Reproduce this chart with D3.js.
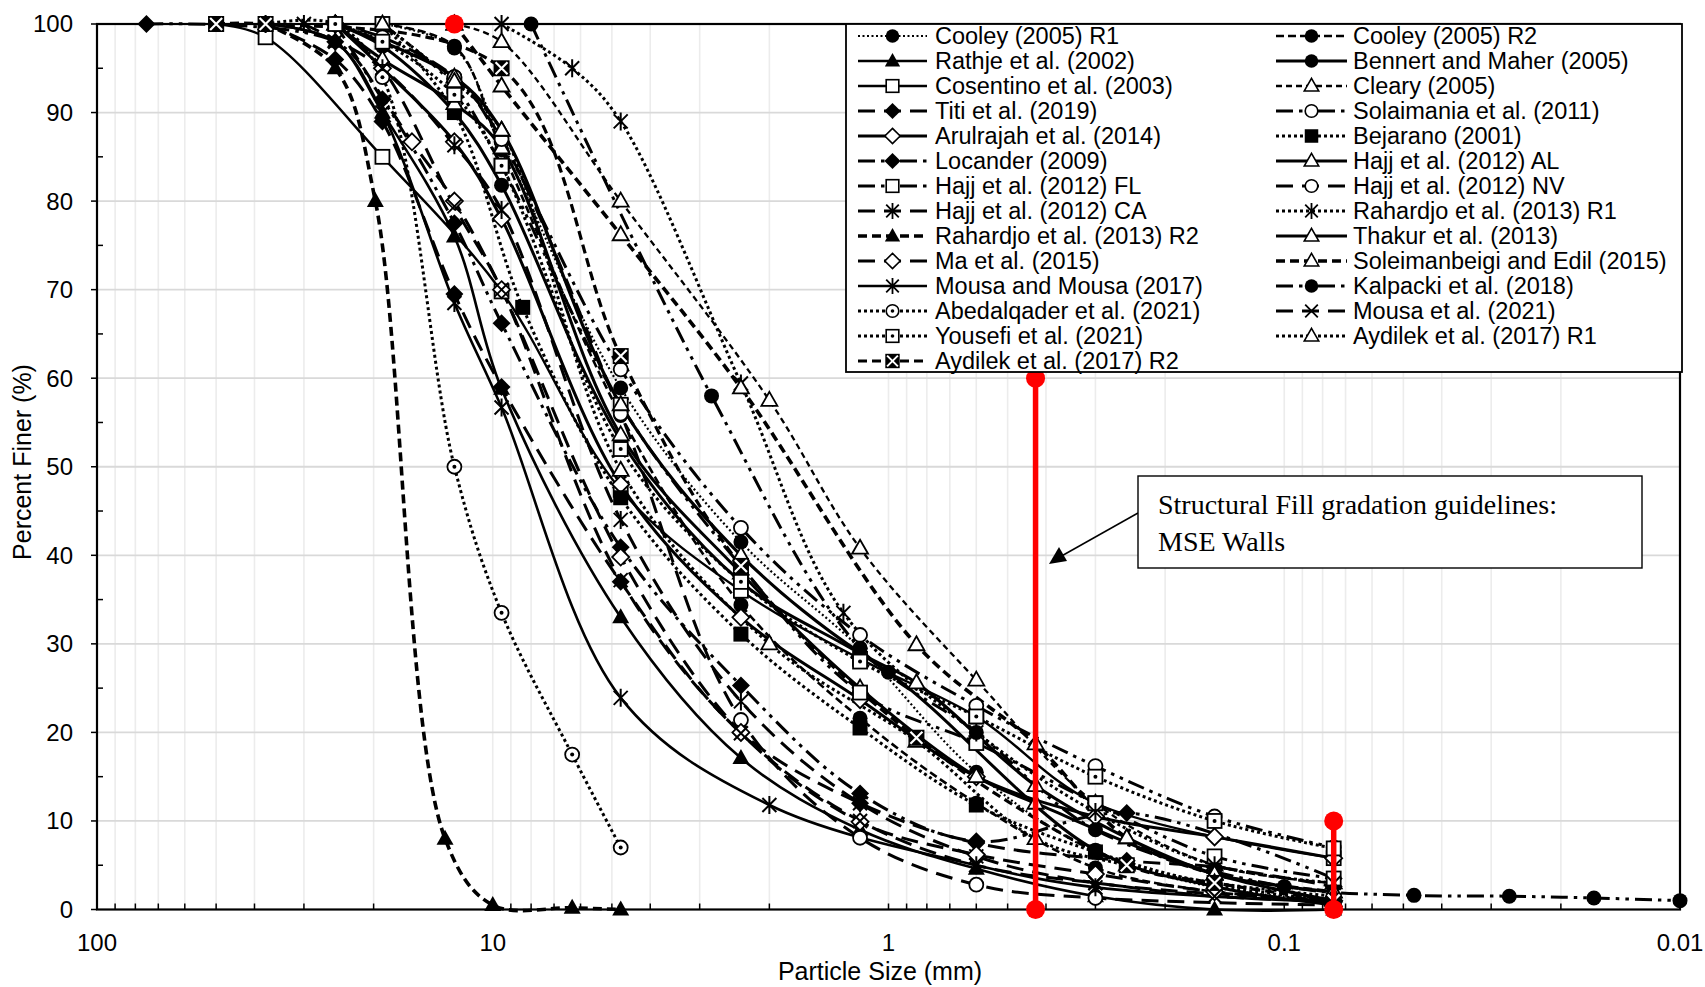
<!DOCTYPE html>
<html><head><meta charset="utf-8">
<script src="https://cdn.jsdelivr.net/npm/d3@7"></script>
<style>body{margin:0;background:#fff}</style>
</head><body>
<svg id="c" width="1705" height="987"></svg>
<script>
// ---------------- DATA (particle size mm, percent finer) ----------------
const cooleyR1      = [[19,100],[12.5,97.3],[9.5,86.7],[4.75,58.9],[2.36,41.5],[1.18,29.5],[0.6,15.5],[0.3,6.5],[0.15,2.5],[0.075,1]];
const cooleyR2      = [[19,100],[12.5,97.5],[9.5,85.8],[4.75,55.8],[2.36,34.4],[1.18,21.6],[0.6,12],[0.3,4.7],[0.15,2],[0.075,0.8]];
const rathje        = [[37.5,100],[25,98],[19,90],[12.5,76],[9.5,58.8],[4.75,33],[2.36,17.1],[1.18,9],[0.6,4.6],[0.3,1.5],[0.15,0],[0.075,0]];
const bennert       = [[25,100],[19,97.5],[12.5,90],[9.5,81.8],[4.75,53],[2.36,37],[1.0,26.8],[0.3,6.7],[0.15,2.6],[0.075,0.5]];
const cosentino     = [[50,100],[37.5,98.5],[19,85],[9.5,69.8],[4.75,47.4],[2.36,36],[1.18,28.3],[0.6,21.8],[0.3,12],[0.075,5.8]];
const cleary        = [[12.5,100],[9.5,98],[4.75,80],[2.0,57.5],[1.18,40.8],[0.6,25.9],[0.3,12],[0.15,5],[0.075,3]];
const titi          = [[37.5,100],[25,96],[19,89],[12.5,69.5],[9.5,59],[4.75,37],[2.36,20],[1.18,12],[0.6,7.5],[0.25,5.5],[0.15,4.8],[0.075,2.6]];
const solaimania    = [[25,100],[12.5,94],[9.5,86.7],[4.75,61],[2.36,43.1],[1.18,31],[0.6,23],[0.3,16.2],[0.15,10.5],[0.075,7]];
const arulrajah     = [[25,100],[19,95],[12.5,86.7],[9.5,78],[4.75,48],[2.36,33],[1.18,23.7],[0.6,15],[0.3,10.5],[0.15,8.2],[0.075,5.8]];
const bejarano      = [[19,100],[12.5,90],[8.4,68],[4.75,46.5],[2.36,31.1],[1.18,20.5],[0.6,11.8],[0.3,6.5],[0.15,2.8],[0.075,1]];
const locander      = [[75,100],[25,98],[19,91.5],[12.5,77.5],[9.5,66.2],[4.75,40.9],[2.36,25.3],[1.18,13.1],[0.6,7.7],[0.25,10.9],[0.075,3.5]];
const hajjAL        = [[25,100],[19,96],[12.5,91],[9.5,86],[4.75,53.6],[2.36,38],[1.18,25],[0.6,15],[0.425,12],[0.15,4],[0.075,2]];
const hajjFL        = [[19,100],[12.5,93],[9.5,84],[4.75,57],[2.36,38.8],[1.18,24.5],[0.6,18.8],[0.3,12],[0.15,6],[0.075,3.5]];
const hajjNV        = [[25,100],[19,98.5],[12.5,94],[9.5,87],[4.75,56],[2.36,21.4],[1.18,8.1],[0.6,2.8],[0.3,1.3],[0.075,0.5]];
const hajjCA        = [[30,100],[19,95],[12.5,86.3],[9.5,79],[4.75,44],[2.36,23.5],[1.18,12],[0.6,6],[0.3,3],[0.075,1]];
const rahardjoR1    = [[9.5,100],[6.3,95],[4.75,89],[2.36,59.4],[1.3,33.5],[0.6,20],[0.3,11],[0.15,5],[0.075,3]];
const rahardjoR2    = [[37.5,100],[25,95],[19.8,80],[13.2,8],[10,0.5],[6.3,0.2],[4.75,0]];
const thakur        = [[25,100],[12.5,94],[9.5,88],[4.75,57],[2.36,40],[1.18,29],[0.85,25.6],[0.425,14],[0.25,8.1],[0.15,4],[0.075,1]];
const ma            = [[25,100],[16,86.7],[12.5,80],[9.5,70],[4.75,39.8],[2.36,20],[1.18,9.9],[0.6,6.2],[0.3,4],[0.15,2],[0.075,1]];
const soleimanbeigi = [[12.5,100],[9.5,93],[4.75,76.2],[2.36,58.9],[0.85,29.9],[0.425,18.7],[0.25,8.1],[0.15,4],[0.075,2]];
const mousaMousa    = [[37.5,100],[25,98],[19,90],[12.5,68.5],[9.5,56.7],[4.75,23.9],[2.0,11.8],[0.6,5],[0.3,2.5],[0.075,0.8]];
const kalpacki      = [[8,100],[2.8,58],[1.18,29.5],[0.6,20],[0.3,9],[0.1,2.6],[0.047,1.6],[0.027,1.5],[0.0165,1.3],[0.01,1]];
const abedalqader   = [[37.5,100],[25,100],[19,94],[12.5,50],[9.5,33.5],[6.3,17.5],[4.75,7]];
const mousa2021     = [[25,100],[19,95],[12.5,79.4],[9.5,70],[4.75,37.2],[2.36,19.9],[1.18,10],[0.6,5],[0.3,3],[0.15,1.5],[0.075,1]];
const yousefi       = [[25,100],[19,98],[12.5,92],[9.5,84],[4.75,52],[2.36,37],[1.18,28],[0.6,21.8],[0.3,15],[0.15,10],[0.075,6.9]];
const aydilekR1     = [[19,100],[12.5,93.5],[9.5,88],[4.75,49.6],[2.0,30],[0.85,19],[0.425,8],[0.25,5],[0.15,3],[0.075,1.5]];
const aydilekR2     = [[50,100],[37.5,100],[9.5,95],[4.75,62.5],[2.36,38.8],[0.85,19.4],[0.25,5],[0.15,3],[0.075,1]];

// Structural fill guideline (MSE walls)
const guideTop   = [[12.5,100]];
const guideNo40  = [[0.425,0],[0.425,60]];
const guideNo200 = [[0.075,0],[0.075,10]];

const seriesNames = ["Cooley (2005) R1","Cooley (2005) R2","Rathje et al. (2002)","Bennert and Maher (2005)",
  "Cosentino et al. (2003)","Cleary (2005)","Titi et al. (2019)","Solaimania et al. (2011)",
  "Arulrajah et al. (2014)","Bejarano (2001)","Locander (2009)","Hajj et al. (2012) AL",
  "Hajj et al. (2012) FL","Hajj et al. (2012) NV","Hajj et al. (2012) CA","Rahardjo et al. (2013) R1",
  "Rahardjo et al. (2013) R2","Thakur et al. (2013)","Ma et al. (2015)","Soleimanbeigi and Edil (2015)",
  "Mousa and Mousa (2017)","Kalpacki et al. (2018)","Abedalqader et al. (2021)","Mousa et al. (2021)",
  "Yousefi et al. (2021)","Aydilek et al. (2017) R1","Aydilek et al. (2017) R2"];
const seriesValues = [cooleyR1,cooleyR2,rathje,bennert,cosentino,cleary,titi,solaimania,arulrajah,bejarano,
  locander,hajjAL,hajjFL,hajjNV,hajjCA,rahardjoR1,rahardjoR2,thakur,ma,soleimanbeigi,mousaMousa,kalpacki,
  abedalqader,mousa2021,yousefi,aydilekR1,aydilekR2];

const xTickValues = [100,10,1,0.1,0.01];
const xTickLabels = ["100","10","1","0.1","0.01"];
const yTickValues = [0,10,20,30,40,50,60,70,80,90,100];
const annotationLines = ["Structural Fill gradation guidelines:","MSE Walls"];

// ---------------- STYLES ----------------
const SDOT="3,3", DASH="8,4", LDASH="17,9", LDDD="17,6,3.5,6,3.5,6";
const styles = [
  {dash:"2,2.5",w:2.2,m:"circleF"},     // Cooley R1
  {dash:DASH,w:2.6,m:"circleF"},        // Cooley R2
  {dash:null,w:2.6,m:"triF"},           // Rathje
  {dash:null,w:3,m:"circleF"},          // Bennert
  {dash:null,w:2.4,m:"squareO"},        // Cosentino
  {dash:"6,4",w:2.3,m:"triO"},          // Cleary
  {dash:LDASH,w:3,m:"diamondF"},        // Titi
  {dash:LDDD,w:3,m:"circleO"},          // Solaimania
  {dash:null,w:3,m:"diamondO"},         // Arulrajah
  {dash:SDOT,w:3,m:"squareF"},          // Bejarano
  {dash:LDDD,w:3,m:"diamondF"},         // Locander
  {dash:null,w:3,m:"triO"},             // Hajj AL
  {dash:LDDD,w:3,m:"squareO"},          // Hajj FL
  {dash:LDASH,w:3,m:"circleO"},         // Hajj NV
  {dash:LDASH,w:3,m:"aster"},           // Hajj CA
  {dash:SDOT,w:3,m:"aster"},            // Rahardjo R1
  {dash:"9,5",w:3.6,m:"triF"},          // Rahardjo R2
  {dash:null,w:3.2,m:"triO"},           // Thakur
  {dash:LDASH,w:3,m:"diamondO"},        // Ma
  {dash:"9,5",w:3.6,m:"triO"},          // Soleimanbeigi
  {dash:null,w:2.6,m:"aster"},          // Mousa and Mousa
  {dash:LDDD,w:3,m:"circleF"},          // Kalpacki
  {dash:SDOT,w:3,m:"circleDot"},        // Abedalqader
  {dash:LDASH,w:3,m:"cross"},           // Mousa 2021
  {dash:SDOT,w:3,m:"squareDot"},        // Yousefi
  {dash:SDOT,w:3,m:"triO"},             // Aydilek R1
  {dash:"9,5",w:3.2,m:"squareX"}        // Aydilek R2
];

// ---------------- LAYOUT ----------------
const svg = d3.select("#c");
const L=97, R=1680, T=24, B=909.5;
const x = d3.scaleLog().domain([100,0.01]).range([L,R]);
const y = d3.scaleLinear().domain([0,100]).range([B,T]);
const FONT="'Liberation Sans', Arial, sans-serif";

// gridlines
const minorVals=[];
for (let k=-2;k<=1;k++) for (let m=1;m<=9;m++){ const v=m*Math.pow(10,k); if(v>0.01&&v<100) minorVals.push(v); }
svg.append("g").selectAll("line").data(minorVals).join("line")
  .attr("x1",d=>x(d)).attr("x2",d=>x(d)).attr("y1",T).attr("y2",B)
  .attr("stroke","#ececec").attr("stroke-width",1.6);
svg.append("g").selectAll("line").data(yTickValues.slice(1,-1)).join("line")
  .attr("x1",L).attr("x2",R).attr("y1",d=>y(d)).attr("y2",d=>y(d))
  .attr("stroke","#d9d9d9").attr("stroke-width",1.8);

// frame + ticks
svg.append("rect").attr("x",L).attr("y",T).attr("width",R-L).attr("height",B-T)
  .attr("fill","none").attr("stroke","#000").attr("stroke-width",2.2);
svg.append("g").selectAll("line").data(minorVals).join("line")
  .attr("x1",d=>x(d)).attr("x2",d=>x(d)).attr("y1",B).attr("y2",B-6)
  .attr("stroke","#000").attr("stroke-width",1.5);
const yMinor=d3.range(5,100,10);
svg.append("g").selectAll("line").data(yMinor).join("line")
  .attr("x1",L).attr("x2",L+6).attr("y1",d=>y(d)).attr("y2",d=>y(d))
  .attr("stroke","#000").attr("stroke-width",1.5);
svg.append("g").selectAll("line").data(yTickValues).join("line")
  .attr("x1",L-6).attr("x2",L).attr("y1",d=>y(d)).attr("y2",d=>y(d))
  .attr("stroke","#000").attr("stroke-width",1.5);

// tick labels
svg.append("g").selectAll("text").data(yTickValues).join("text")
  .attr("x",L-24).attr("y",d=>y(d)).attr("dy","0.35em").attr("text-anchor","end")
  .attr("font-family",FONT).attr("font-size",24).text(d=>d);
svg.append("g").selectAll("text").data(xTickValues).join("text")
  .attr("x",d=>x(d)).attr("y",951).attr("text-anchor","middle")
  .attr("font-family",FONT).attr("font-size",24).text((d,i)=>xTickLabels[i]);
svg.append("text").attr("x",880).attr("y",980).attr("text-anchor","middle")
  .attr("font-family",FONT).attr("font-size",25).text("Particle Size (mm)");
svg.append("text").attr("transform","translate(31,462) rotate(-90)").attr("text-anchor","middle")
  .attr("font-family",FONT).attr("font-size",25).text("Percent Finer (%)");

// markers
function marker(g,type,cx,cy,s){
  s=s||1; const k=g.append("g").attr("transform",`translate(${cx},${cy}) scale(${s})`);
  const sw=1.8;
  switch(type){
    case "circleF": k.append("circle").attr("r",7.5).attr("fill","#000"); break;
    case "circleO": k.append("circle").attr("r",7).attr("fill","#fff").attr("stroke","#000").attr("stroke-width",sw); break;
    case "circleDot": k.append("circle").attr("r",7).attr("fill","#fff").attr("stroke","#000").attr("stroke-width",sw);
      k.append("circle").attr("r",2).attr("fill","#000"); break;
    case "triF": k.append("path").attr("d","M0,-9L8.5,6L-8.5,6Z").attr("fill","#000"); break;
    case "triO": k.append("path").attr("d","M0,-8.5L8,5.5L-8,5.5Z").attr("fill","#fff").attr("stroke","#000").attr("stroke-width",sw); break;
    case "squareF": k.append("rect").attr("x",-7.5).attr("y",-7.5).attr("width",15).attr("height",15).attr("fill","#000"); break;
    case "squareO": k.append("rect").attr("x",-7).attr("y",-7).attr("width",14).attr("height",14).attr("fill","#fff").attr("stroke","#000").attr("stroke-width",sw); break;
    case "squareDot": k.append("rect").attr("x",-7).attr("y",-7).attr("width",14).attr("height",14).attr("fill","#fff").attr("stroke","#000").attr("stroke-width",sw);
      k.append("circle").attr("r",2).attr("fill","#000"); break;
    case "squareX": k.append("rect").attr("x",-8).attr("y",-8).attr("width",16).attr("height",16).attr("fill","#000");
      k.append("path").attr("d","M-6,-6L6,6M6,-6L-6,6").attr("stroke","#fff").attr("stroke-width",2.2); break;
    case "diamondF": k.append("path").attr("d","M0,-9L9,0L0,9L-9,0Z").attr("fill","#000"); break;
    case "diamondO": k.append("path").attr("d","M0,-8.5L8.5,0L0,8.5L-8.5,0Z").attr("fill","#fff").attr("stroke","#000").attr("stroke-width",sw); break;
    case "aster": k.append("path").attr("d","M-7,-7L7,7M7,-7L-7,7M0,-9L0,9").attr("stroke","#000").attr("stroke-width",2); break;
    case "cross": k.append("path").attr("d","M-7,-7L7,7M7,-7L-7,7").attr("stroke","#000").attr("stroke-width",2); break;
  }
}

// series
const line = d3.line().x(d=>x(d[0])).y(d=>y(d[1])).curve(d3.curveCatmullRom.alpha(0.5));
const gLines = svg.append("g"), gMarks = svg.append("g");
seriesValues.forEach((vals,i)=>{
  const st=styles[i];
  gLines.append("path").attr("d",line(vals)).attr("fill","none").attr("stroke","#000")
    .attr("stroke-width",st.w).attr("stroke-dasharray",st.dash).attr("stroke-linecap","butt");
  vals.forEach(d=>marker(gMarks,st.m,x(d[0]),y(d[1])));
});

// red guideline
const gRed = svg.append("g");
[guideNo40,guideNo200].forEach(seg=>{
  gRed.append("path").attr("d",d3.line().x(d=>x(d[0])).y(d=>y(d[1]))(seg))
    .attr("stroke","#ff0000").attr("stroke-width",5.5).attr("fill","none");
});
[...guideTop,...guideNo40,...guideNo200].forEach(d=>{
  gRed.append("circle").attr("cx",x(d[0])).attr("cy",y(d[1])).attr("r",9.5).attr("fill","#ff0000");
});

// legend
const lg = svg.append("g");
lg.append("rect").attr("x",846).attr("y",24).attr("width",836).attr("height",348)
  .attr("fill","#fff").attr("stroke","#000").attr("stroke-width",1.8);
seriesNames.forEach((name,i)=>{
  const col=i%2, row=Math.floor(i/2);
  const cy=36+25*row;
  const x1= col? 1276:858, x2= col? 1347:927, xm=(x1+x2)/2, xt= col? 1353:935;
  const st=styles[i];
  lg.append("line").attr("x1",x1).attr("x2",x2).attr("y1",cy).attr("y2",cy)
    .attr("stroke","#000").attr("stroke-width",st.w).attr("stroke-dasharray",st.dash);
  marker(lg,st.m,xm,cy,0.9);
  lg.append("text").attr("x",xt).attr("y",cy).attr("dy","0.36em").attr("font-family",FONT)
    .attr("font-size",23.5).text(name);
});

// annotation
svg.append("line").attr("x1",1138).attr("y1",513).attr("x2",1058).attr("y2",558)
  .attr("stroke","#000").attr("stroke-width",1.5);
svg.append("path").attr("d","M1049,564 L1059,547 L1067,561 Z").attr("fill","#000");
svg.append("rect").attr("x",1138).attr("y",476).attr("width",504).attr("height",92)
  .attr("fill","#fff").attr("stroke","#000").attr("stroke-width",1.4);
annotationLines.forEach((t,i)=>{
  svg.append("text").attr("x",1158).attr("y",514+37*i).attr("font-family","'Liberation Serif','Times New Roman',serif")
    .attr("font-size",28).text(t);
});
</script>
</body></html>
